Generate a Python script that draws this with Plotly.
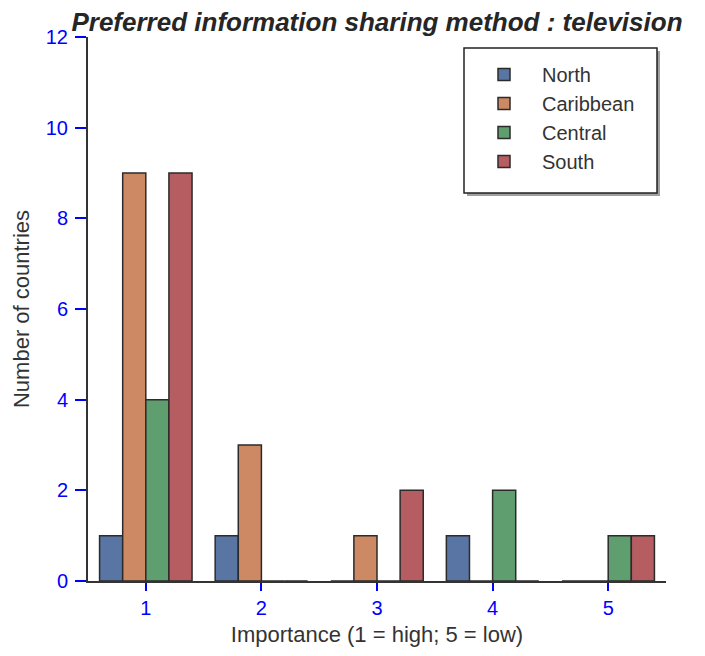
import plotly.graph_objects as go

importance = ["1", "2", "3", "4", "5"]
regions = ["North", "Caribbean", "Central", "South"]
north = [1, 1, 0, 1, 0]
caribbean = [9, 3, 1, 0, 0]
central = [4, 0, 0, 2, 1]
south = [9, 0, 2, 0, 1]
series = [north, caribbean, central, south]
colors = ["#5975a4", "#cc8963", "#5f9e6e", "#b55d60"]
y_ticks = [0, 2, 4, 6, 8, 10, 12]

FONT = "Liberation Sans, Arial, sans-serif"

fig = go.Figure()
for name, vals, col in zip(regions, series, colors):
    fig.add_trace(go.Bar(
        x=importance, y=vals, name=name,
        marker=dict(color=col, line=dict(color="#2b2b2b", width=1.5)),
    ))

# page is offset by the 8px body margin
OFF = 8
W, H = 705 - OFF, 656 - OFF
L, R, T, B = 88 - OFF, 39, 37 - OFF, 75
PW, PH = W - L - R, H - T - B


def px_x(p):
    return (p - OFF - L) / PW


def px_y(p):
    return (H - B - (p - OFF)) / PH


fig.update_layout(
    width=W, height=H,
    margin=dict(l=L, r=R, t=T, b=B),
    paper_bgcolor="white", plot_bgcolor="white",
    barmode="group", bargap=0.2, bargroupgap=0,
    font=dict(family=FONT, color="#333333"),
    title=dict(
        text="<b><i>Preferred information sharing method : television</i></b>",
        x=0.5, xref="paper", xanchor="center",
        y=1 - (22 - OFF) / H, yref="container", yanchor="middle",
        font=dict(size=26, color="#262626", family=FONT),
    ),
    xaxis=dict(
        type="category", range=[-0.5, 4.5],
        showgrid=False, zeroline=False,
        showline=True, linecolor="#333333", linewidth=2,
        ticks="outside", ticklen=8, tickwidth=2, tickcolor="blue",
        tickfont=dict(size=20, color="blue", family=FONT),
        title=dict(text="Importance (1 = high; 5 = low)", font=dict(size=22, color="#333333", family=FONT), standoff=9),
    ),
    yaxis=dict(
        range=[0, 12], tickvals=y_ticks,
        showgrid=False, zeroline=False,
        showline=True, linecolor="#333333", linewidth=2,
        ticks="outside", ticklen=11, tickwidth=2, tickcolor="blue",
        ticklabelstandoff=3,
        tickfont=dict(size=20, color="blue", family=FONT),
        title=dict(text="Number of countries", font=dict(size=22, color="#333333", family=FONT), standoff=10),
    ),
    legend=dict(
        x=px_x(466), xanchor="left",
        y=px_y(55), yanchor="top",
        bgcolor="rgba(0,0,0,0)", borderwidth=0,
        font=dict(size=20, color="#333333", family=FONT),
        itemwidth=66,
    ),
    shapes=[
        dict(type="rect", xref="paper", yref="paper",
             x0=px_x(467), x1=px_x(660), y0=px_y(196), y1=px_y(51),
             fillcolor="#a0a0a0", line=dict(width=0), layer="above"),
        dict(type="rect", xref="paper", yref="paper",
             x0=px_x(464), x1=px_x(657), y0=px_y(193), y1=px_y(48),
             fillcolor="white", line=dict(color="#222222", width=1.5), layer="above"),
    ],
)

fig.write_html("out.html")
